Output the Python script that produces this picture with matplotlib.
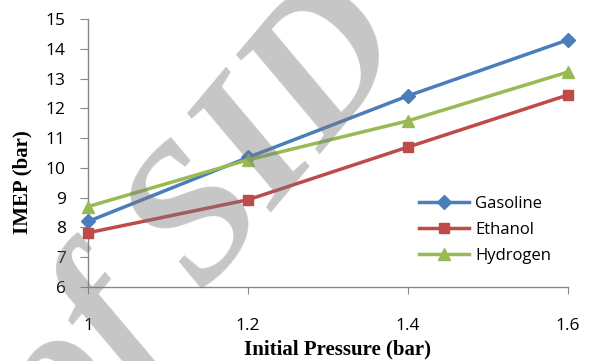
import matplotlib
matplotlib.use("Agg")
import matplotlib.pyplot as plt

pressure = [1.0, 1.2, 1.4, 1.6]
gasoline = [8.2, 10.35, 12.42, 14.3]
ethanol = [7.82, 8.93, 10.7, 12.45]
hydrogen = [8.7, 10.27, 11.58, 13.22]
xticks = [1, 1.2, 1.4, 1.6]
xticklabels = ["1", "1.2", "1.4", "1.6"]
yticks = list(range(6, 16))

fig = plt.figure(figsize=(5.9, 3.61), dpi=100)
ax = fig.add_axes([88/590, 1-287/361, 480/590, 268/361])

ax.plot(pressure, gasoline, color="#4A7EBB", lw=2.5, marker="D", ms=7, label="Gasoline", clip_on=False, zorder=3)
ax.plot(pressure, ethanol, color="#BE4B48", lw=2.5, marker="s", ms=7, label="Ethanol", clip_on=False, zorder=3)
ax.plot(pressure, hydrogen, color="#98B954", lw=2.5, marker="^", ms=8.5, label="Hydrogen", clip_on=False, zorder=3)

ax.set_xlim(1, 1.6)
ax.set_ylim(6, 15)
ax.set_xticks(xticks)
ax.set_xticklabels(xticklabels)
ax.set_yticks(yticks)
for s in ["top", "right"]:
    ax.spines[s].set_visible(False)
for s in ["left", "bottom"]:
    ax.spines[s].set_color("#888888")
    ax.spines[s].set_linewidth(1)
ax.tick_params(axis="x", direction="out", length=5, color="#888888", pad=17, labelsize=12.5)
ax.tick_params(axis="y", direction="out", length=6, color="#888888", pad=10, labelsize=12.5)
for lab in ax.get_xticklabels() + ax.get_yticklabels():
    lab.set_family("Open Sans")

ax.set_xlabel("Initial Pressure (bar)", family="Liberation Serif", fontweight="bold", fontsize=15)
ax.xaxis.set_label_coords(0.52, -0.195)
ax.set_ylabel("IMEP (bar)", family="Liberation Serif", fontweight="bold", fontsize=15)
ax.yaxis.set_label_coords(-0.115, 0.39)

leg = ax.legend(loc="upper left", bbox_to_anchor=(0.675, 0.365), frameon=False,
                prop={"family": "Open Sans", "size": 12}, handlelength=3.0, labelspacing=0.6,
                handletextpad=0.4, borderaxespad=0)

# watermark overlay
fig.text(240/590, 1-250/361, "of SID", fontsize=140, family="Liberation Serif",
         fontstyle="italic", fontweight="bold", color="#777777", alpha=0.42, rotation=50,
         rotation_mode="anchor", ha="center", va="baseline", zorder=10)

fig.savefig("out.png", dpi=100)
